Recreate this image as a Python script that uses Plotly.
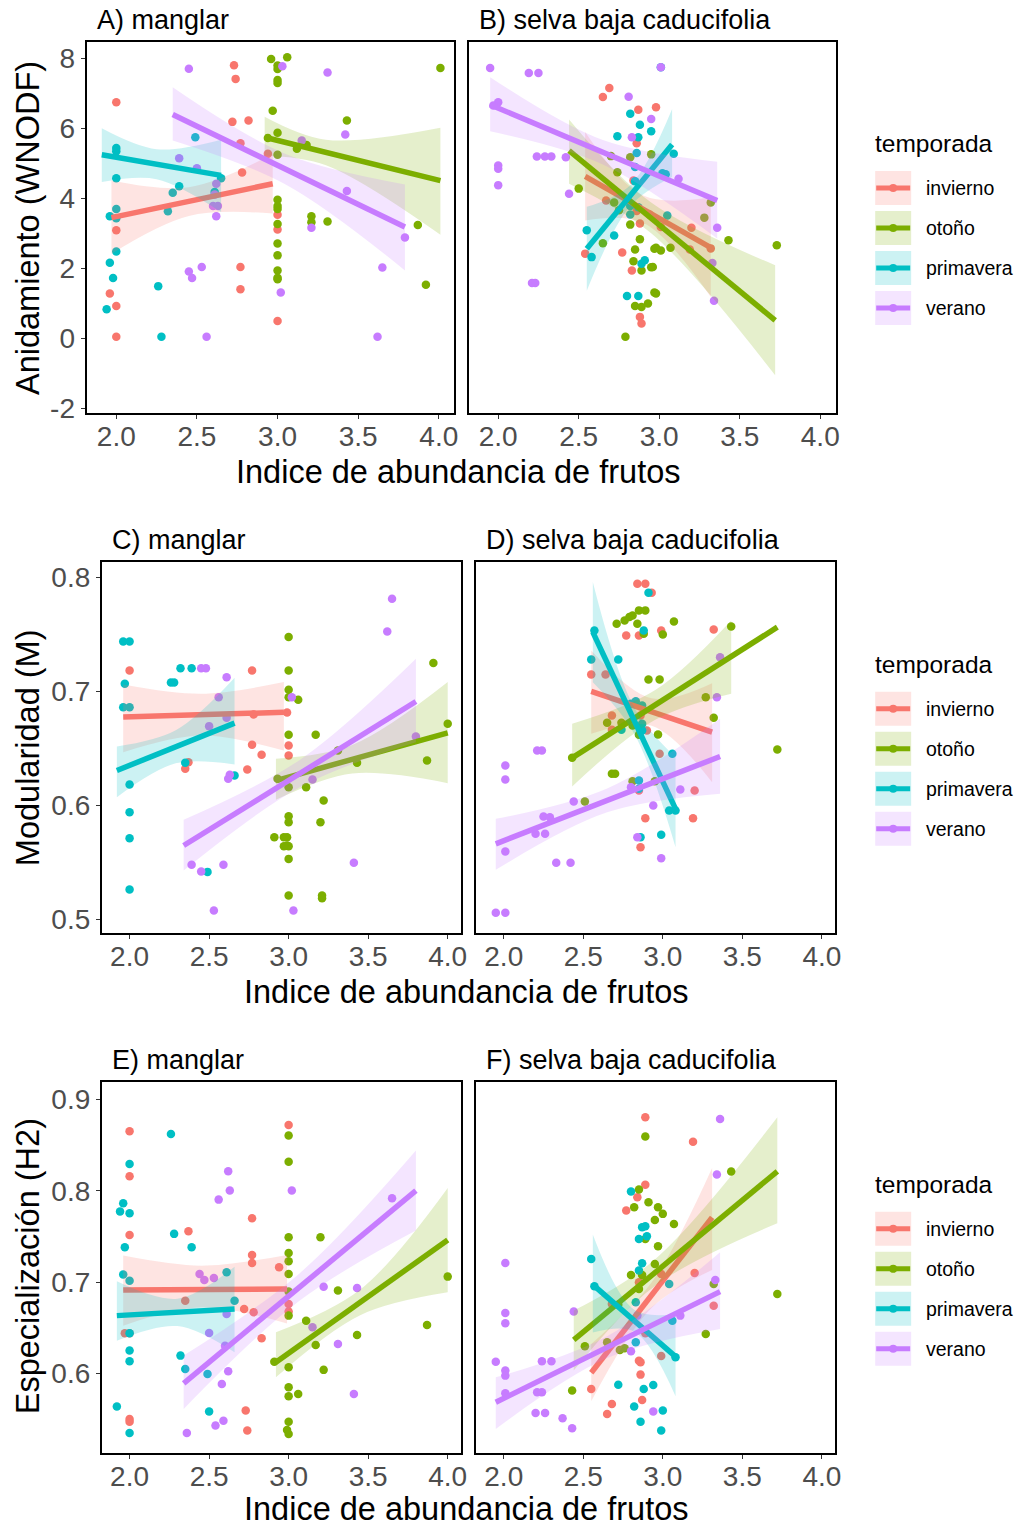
import plotly.graph_objects as go

W, H = 1019, 1527
# the rendered page comes out slightly smaller than the figure; positions below are
# given in target pixels and stretched by these factors
SX, SY = 1.005, 1.0075
FONT = "Liberation Sans, Arial, sans-serif"

SEASONS = ["invierno", "otoño", "primavera", "verano"]
SHORT = {"invierno": "inv", "otoño": "oto", "primavera": "pri", "verano": "ver"}
COLORS = {"invierno": "#F8766D", "otoño": "#7CAE00", "primavera": "#00BFC4", "verano": "#C77CFF"}

PANELS = ["A", "B", "C", "D", "E", "F"]
PANEL_TITLES = ["A) manglar", "B) selva baja caducifolia",
                "C) manglar", "D) selva baja caducifolia",
                "E) manglar", "F) selva baja caducifolia"]
Y_TITLES = ["Anidamiento (WNODF)", "Modularidad (M)", "Especialización (H2)"]
X_TITLE = "Indice de abundancia de frutos"
LEGEND_TITLE = "temporada"

X_TICKS = [2.0, 2.5, 3.0, 3.5, 4.0]
X_TICK_TEXT = ["2.0", "2.5", "3.0", "3.5", "4.0"]
Y_TICKS = [[-2, 0, 2, 4, 6, 8], [0.5, 0.6, 0.7, 0.8], [0.6, 0.7, 0.8, 0.9]]
Y_TICK_TEXT = [["-2", "0", "2", "4", "6", "8"], ["0.5", "0.6", "0.7", "0.8"], ["0.6", "0.7", "0.8", "0.9"]]

# ---------------- A) manglar : anidamiento ----------------
A_inv_x = [2.0, 2.73, 2.74, 2.72, 2.82, 2.77, 2.94, 2.78, 2.0, 1.96, 2.0, 2.0, 2.77, 2.77, 3.0, 3.0, 3.0]
A_inv_y = [6.75, 7.81, 7.42, 6.19, 6.23, 5.58, 5.28, 4.74, 3.09, 1.28, 0.92, 0.04, 2.04, 1.40, 0.49, 3.53, 3.11]
A_oto_x = [2.96, 2.97, 2.94, 3.06, 3.0, 3.0, 3.0, 3.0, 3.0, 3.0, 3.12, 3.18, 3.43, 4.01,
           3.0, 3.0, 3.0, 3.0, 3.0, 3.0, 3.0, 3.0, 3.0, 3.21, 3.21, 3.31, 3.87, 3.92]
A_oto_y = [7.99, 6.51, 5.73, 8.04, 7.80, 7.70, 7.39, 7.30, 5.88, 5.25, 5.42, 5.53, 6.23, 7.73,
           3.96, 3.78, 3.70, 3.27, 2.71, 2.37, 1.94, 1.73, 1.69, 3.49, 3.32, 3.34, 3.24, 1.53]
A_pri_x = [2.0, 2.0, 2.0, 2.49, 2.39, 2.35, 2.32, 2.65, 2.61, 2.0, 1.96, 2.0, 2.0, 1.96, 1.98, 1.94, 2.26, 2.28]
A_pri_y = [5.44, 5.35, 4.58, 5.75, 4.35, 4.16, 3.63, 4.58, 4.18, 3.70, 3.49, 3.43, 2.48, 2.16, 1.72, 0.83, 1.49, 0.04]
A_ver_x = [2.45, 2.39, 2.50, 2.62, 2.61, 2.60, 2.63, 2.62, 2.45, 2.47, 2.53, 2.56,
           3.03, 3.31, 3.15, 3.42, 3.43, 3.21, 3.79, 3.65, 3.02, 3.62]
A_ver_y = [7.71, 5.15, 4.86, 4.42, 4.11, 3.78, 3.78, 3.49, 1.91, 1.72, 2.04, 0.04,
           7.78, 7.60, 5.66, 5.83, 4.21, 3.16, 2.88, 2.02, 1.31, 0.04]

A_inv_fit_x, A_inv_fit_y = [1.97, 2.97], [3.45, 4.42]
A_inv_ci_x, A_inv_ci_lo, A_inv_ci_hi = [1.97, 2.45, 2.97], [2.42, 3.50, 3.57], [4.51, 4.32, 5.27]
A_oto_fit_x, A_oto_fit_y = [2.92, 4.01], [5.75, 4.51]
A_oto_ci_x, A_oto_ci_lo, A_oto_ci_hi = [2.92, 3.30, 4.01], [5.23, 4.95, 2.96], [6.34, 5.68, 6.02]
A_pri_fit_x, A_pri_fit_y = [1.91, 2.65], [5.25, 4.66]
A_pri_ci_x, A_pri_ci_lo, A_pri_ci_hi = [1.91, 2.25, 2.65], [4.47, 4.55, 3.61], [6.01, 5.41, 5.68]
A_ver_fit_x, A_ver_fit_y = [2.35, 3.79], [6.40, 3.18]
A_ver_ci_x, A_ver_ci_lo, A_ver_ci_hi = [2.35, 3.05, 3.79], [5.66, 4.40, 1.94], [7.18, 5.27, 4.40]

# ---------------- B) selva baja caducifolia : anidamiento ----------------
B_inv_x = [2.69, 2.65, 2.87, 2.98, 2.86, 2.84, 2.67, 2.86, 2.94, 2.88, 2.54, 2.77, 2.83, 2.88, 2.89, 3.01, 3.20, 3.19, 3.32]
B_inv_y = [7.16, 6.90, 6.54, 6.61, 5.58, 4.51, 3.94, 3.64, 3.54, 3.28, 2.42, 2.45, 1.94, 0.61, 0.42, 3.18, 3.16, 2.54, 2.57]
B_oto_x = [2.70, 2.82, 2.95, 2.50, 2.74, 2.72, 2.75, 2.82, 2.65, 2.88, 2.85, 2.84, 2.89, 2.95, 2.97,
           2.85, 2.89, 2.93, 2.97, 2.79, 3.32, 3.28, 3.43, 3.73, 2.98, 3.01, 3.07, 2.96, 2.98]
B_oto_y = [5.21, 5.18, 5.26, 4.28, 4.75, 3.88, 3.66, 3.25, 2.72, 2.83, 2.54, 2.20, 1.94, 2.03, 2.56,
           0.92, 0.89, 0.99, 1.31, 0.04, 3.88, 3.45, 2.80, 2.66, 2.59, 2.51, 2.59, 2.04, 1.28]
B_pri_x = [2.82, 2.88, 2.95, 2.74, 2.87, 2.86, 2.85, 2.85, 2.82, 2.87, 2.82, 2.55, 2.72, 2.58, 2.89, 2.91,
           2.80, 2.87, 3.02, 3.04, 3.09, 3.05, 3.01]
B_pri_y = [6.42, 6.11, 5.92, 5.78, 5.75, 5.30, 4.90, 4.49, 3.78, 3.75, 3.54, 3.09, 2.94, 2.32, 2.13, 2.23,
           1.21, 1.21, 4.72, 4.69, 5.28, 3.51, 7.75]
B_ver_x = [1.95, 2.19, 2.25, 2.0, 1.97, 2.24, 2.29, 2.33, 2.42, 2.0, 2.0, 2.0, 2.44, 2.21, 2.23,
           2.81, 2.95, 2.83, 3.01, 3.12, 3.36, 3.33, 3.34]
B_ver_y = [7.73, 7.59, 7.59, 6.75, 6.66, 5.20, 5.20, 5.20, 5.18, 4.94, 4.85, 4.38, 4.13, 1.58, 1.58,
           6.91, 6.27, 5.75, 7.75, 4.56, 3.16, 2.15, 1.07]

B_inv_fit_x, B_inv_fit_y = [2.54, 3.32], [4.63, 2.59]
B_inv_ci_x, B_inv_ci_lo, B_inv_ci_hi = [2.54, 2.90, 3.32], [3.37, 3.30, 1.18], [5.90, 4.08, 4.03]
B_oto_fit_x, B_oto_fit_y = [2.44, 3.72], [5.37, 0.51]
B_oto_ci_x, B_oto_ci_lo, B_oto_ci_hi = [2.44, 2.95, 3.72], [4.42, 3.00, -1.06], [6.26, 3.88, 2.09]
B_pri_fit_x, B_pri_fit_y = [2.55, 3.08], [2.56, 5.54]
B_pri_ci_x, B_pri_ci_lo, B_pri_ci_hi = [2.55, 2.82, 3.08], [1.36, 3.78, 4.61], [3.76, 4.38, 6.56]
B_ver_fit_x, B_ver_fit_y = [1.95, 3.36], [6.68, 3.94]
B_ver_ci_x, B_ver_ci_lo, B_ver_ci_hi = [1.95, 2.65, 3.36], [5.92, 4.97, 2.85], [7.47, 5.67, 5.05]

# ---------------- C) manglar : modularidad ----------------
C_inv_x = [2.0, 2.77, 2.78, 2.77, 2.83, 2.74, 2.35, 2.37, 3.0, 3.0, 2.99]
C_inv_y = [0.7184, 0.7184, 0.6798, 0.6532, 0.6445, 0.6316, 0.6322, 0.638, 0.6526, 0.6439, 0.6816]
C_oto_x = [3.0, 3.0, 3.0, 3.0, 3.06, 3.0, 3.17, 3.0, 3.11, 3.31, 3.43, 3.22, 3.20, 3.0, 3.0,
           2.99, 2.99, 3.0, 3.0, 3.0, 3.21, 3.21, 3.91, 4.0, 3.87, 2.91, 2.97, 2.97, 2.93]
C_oto_y = [0.7477, 0.7184, 0.7015, 0.695, 0.6927, 0.662, 0.662, 0.616, 0.616, 0.6482, 0.6374, 0.6044, 0.5854,
           0.5906, 0.5854, 0.5722, 0.5649, 0.5643, 0.5532, 0.521, 0.521, 0.5187, 0.7249, 0.6717, 0.6395,
           0.5722, 0.5722, 0.5643, 0.6234]
C_pri_x = [1.96, 2.0, 1.97, 1.96, 2.0, 2.0, 2.0, 2.0, 2.0, 2.32, 2.39, 2.26, 2.28, 2.35, 2.66, 2.49]
C_pri_y = [0.7439, 0.7439, 0.7068, 0.6862, 0.6862, 0.6184, 0.5941, 0.5713, 0.5263, 0.7204, 0.7204,
           0.7079, 0.7079, 0.6374, 0.6263, 0.5418]
C_ver_x = [2.45, 2.48, 2.61, 2.56, 2.61, 2.50, 2.63, 2.62, 2.39, 2.45, 2.59, 2.53,
           3.65, 3.62, 3.02, 3.80, 3.15, 3.41, 3.03]
C_ver_y = [0.7204, 0.7204, 0.7125, 0.695, 0.6769, 0.6696, 0.6269, 0.6234, 0.548, 0.5421, 0.548, 0.5079,
           0.7813, 0.7526, 0.695, 0.6605, 0.6228, 0.5497, 0.5079]

C_inv_fit_x, C_inv_fit_y = [1.96, 2.97], [0.6775, 0.6818]
C_inv_ci_x, C_inv_ci_lo, C_inv_ci_hi = [1.96, 2.45, 2.97], [0.6468, 0.6614, 0.6482], [0.7061, 0.698, 0.7082]
C_oto_fit_x, C_oto_fit_y = [2.92, 4.0], [0.6219, 0.6637]
C_oto_ci_x, C_oto_ci_lo, C_oto_ci_hi = [2.92, 3.40, 4.0], [0.605, 0.628, 0.6196], [0.641, 0.653, 0.7082]
C_pri_fit_x, C_pri_fit_y = [1.92, 2.66], [0.6307, 0.6722]
C_pri_ci_x, C_pri_ci_lo, C_pri_ci_hi = [1.92, 2.29, 2.66], [0.6073, 0.637, 0.636], [0.6518, 0.666, 0.712]
C_ver_fit_x, C_ver_fit_y = [2.34, 3.80], [0.5649, 0.6912]
C_ver_ci_x, C_ver_ci_lo, C_ver_ci_hi = [2.34, 3.07, 3.80], [0.543, 0.616, 0.6555], [0.5875, 0.640, 0.7287]

# ---------------- D) selva baja caducifolia : modularidad ----------------
D_inv_x = [2.84, 2.89, 2.93, 2.77, 2.85, 2.55, 2.64, 2.68, 2.68, 2.86, 2.90, 2.85, 2.89, 2.86,
           2.99, 2.98, 3.32, 3.20, 3.19]
D_inv_y = [0.7944, 0.7944, 0.7865, 0.7491, 0.7491, 0.7149, 0.7149, 0.6789, 0.6664, 0.6789, 0.6658,
           0.6132, 0.5889, 0.5634, 0.7535, 0.6453, 0.7544, 0.6132, 0.5889]
D_oto_x = [2.71, 2.76, 2.79, 2.81, 2.84, 2.85, 2.89, 2.88, 2.91, 2.98, 2.65, 2.74, 2.81, 2.85,
           2.97, 2.68, 2.70, 2.81, 2.95, 2.51, 2.43, 3.07, 3.0, 3.43, 3.27, 3.32, 3.72]
D_oto_y = [0.7594, 0.7623, 0.7652, 0.7667, 0.7594, 0.7711, 0.7711, 0.7506, 0.7105, 0.7105, 0.6725,
           0.6725, 0.6702, 0.662, 0.6623, 0.6278, 0.6278, 0.6213, 0.6213, 0.6035, 0.6418, 0.7614,
           0.75, 0.757, 0.695, 0.6769, 0.6491]
D_pri_x = [2.91, 2.57, 2.88, 2.55, 2.72, 2.80, 2.83, 2.87, 2.74, 2.87, 2.87, 2.85, 2.85, 2.86,
           2.99, 3.06, 3.04, 3.08]
D_pri_y = [0.7865, 0.7535, 0.7535, 0.7281, 0.7281, 0.6892, 0.6915, 0.6877, 0.6664, 0.6717, 0.6658,
           0.6219, 0.6146, 0.5722, 0.5743, 0.6453, 0.5956, 0.5956]
D_ver_x = [1.95, 2.01, 2.01, 2.01, 2.01, 2.21, 2.24, 2.33, 2.42, 2.44, 2.25, 2.29, 2.20, 2.26,
           2.80, 2.94, 2.84, 2.99, 3.36, 3.34, 3.11]
D_ver_y = [0.5059, 0.5059, 0.6351, 0.6228, 0.5596, 0.6482, 0.6482, 0.5497, 0.5497, 0.6035, 0.5904,
           0.5898, 0.5752, 0.5752, 0.616, 0.600, 0.5722, 0.5538, 0.7301, 0.695, 0.614]

D_inv_fit_x, D_inv_fit_y = [2.55, 3.31], [0.700, 0.6643]
D_inv_ci_x, D_inv_ci_lo, D_inv_ci_hi = [2.55, 2.93, 3.31], [0.6629, 0.670, 0.6204], [0.736, 0.694, 0.7073]
D_oto_fit_x, D_oto_fit_y = [2.43, 3.72], [0.6418, 0.7564]
D_oto_ci_x, D_oto_ci_lo, D_oto_ci_hi = [2.43, 2.95, 3.43], [0.6167, 0.675, 0.698], [0.6717, 0.701, 0.7623]
D_pri_fit_x, D_pri_fit_y = [2.56, 3.08], [0.752, 0.5971]
D_pri_ci_x, D_pri_ci_lo, D_pri_ci_hi = [2.56, 2.82, 3.08], [0.708, 0.663, 0.5634], [0.7959, 0.686, 0.6424]
D_ver_fit_x, D_ver_fit_y = [1.95, 3.36], [0.5664, 0.643]
D_ver_ci_x, D_ver_ci_lo, D_ver_ci_hi = [1.95, 2.65, 3.36], [0.5436, 0.594, 0.6103], [0.5883, 0.615, 0.676]

# ---------------- E) manglar : especializacion ----------------
E_inv_x = [2.0, 2.0, 2.0, 1.97, 2.0, 2.0, 2.0, 2.37, 2.35, 2.77, 2.77, 2.77, 2.72, 2.78, 2.83,
           2.73, 2.74, 2.94, 3.0, 3.0, 3.0]
E_inv_y = [0.8653, 0.816, 0.7519, 0.6441, 0.6441, 0.5504, 0.5474, 0.7558, 0.6799, 0.77, 0.73, 0.7212,
           0.6708, 0.6671, 0.6386, 0.5595, 0.5376, 0.7164, 0.8723, 0.6763, 0.6679]
E_oto_x = [3.0, 3.0, 3.0, 3.20, 3.0, 3.0, 3.0, 3.0, 3.0, 3.31, 3.11, 3.17, 3.43, 3.22, 3.0, 3.0,
           3.0, 3.06, 3.0, 2.99, 3.0, 4.0, 3.87, 2.91]
E_oto_y = [0.8606, 0.8321, 0.7492, 0.7492, 0.7321, 0.723, 0.7091, 0.6898, 0.6635, 0.6909, 0.658,
           0.6314, 0.6424, 0.6041, 0.6069, 0.585, 0.5751, 0.5778, 0.5474, 0.5383, 0.534, 0.7062,
           0.6533, 0.6131]
E_pri_x = [2.26, 2.0, 1.96, 1.94, 2.0, 2.28, 1.97, 2.39, 1.96, 2.0, 2.61, 2.66, 2.0, 2.0, 2.0,
           2.32, 2.35, 2.49, 1.92, 2.50, 2.0]
E_pri_y = [0.8624, 0.8296, 0.7865, 0.7774, 0.7755, 0.753, 0.7383, 0.7383, 0.7084, 0.7018, 0.7109,
           0.6799, 0.6441, 0.6252, 0.6135, 0.6197, 0.6051, 0.5997, 0.5639, 0.5584, 0.535]
E_ver_x = [2.62, 2.63, 2.56, 2.44, 2.47, 2.53, 2.61, 2.50, 2.60, 2.62, 2.58, 2.54, 2.59, 2.36,
           3.02, 3.65, 3.22, 3.43, 3.15, 3.31, 3.41]
E_ver_y = [0.8215, 0.8004, 0.7905, 0.7092, 0.7026, 0.7048, 0.6653, 0.6445, 0.6306, 0.6025, 0.5887,
           0.5431, 0.5485, 0.535, 0.8004, 0.7919, 0.6952, 0.6938, 0.6507, 0.6325, 0.5778]

E_inv_fit_x, E_inv_fit_y = [1.96, 2.99], [0.6916, 0.6927]
E_inv_ci_x, E_inv_ci_lo, E_inv_ci_hi = [1.96, 2.45, 2.99], [0.6525, 0.6726, 0.655], [0.7292, 0.7182, 0.730]
E_oto_fit_x, E_oto_fit_y = [2.92, 4.0], [0.6124, 0.7463]
E_oto_ci_x, E_oto_ci_lo, E_oto_ci_hi = [2.92, 3.45, 4.0], [0.5959, 0.664, 0.689], [0.6452, 0.692, 0.8033]
E_pri_fit_x, E_pri_fit_y = [1.92, 2.66], [0.6635, 0.6708]
E_pri_ci_x, E_pri_ci_lo, E_pri_ci_hi = [1.92, 2.30, 2.66], [0.6361, 0.652, 0.6233], [0.701, 0.682, 0.7171]
E_ver_fit_x, E_ver_fit_y = [2.34, 3.80], [0.5894, 0.8004]
E_ver_ci_x, E_ver_ci_lo, E_ver_ci_hi = [2.34, 3.07, 3.80], [0.5613, 0.680, 0.7566], [0.6197, 0.710, 0.8442]

# ---------------- F) selva baja caducifolia : especializacion ----------------
F_inv_x = [2.89, 2.89, 2.84, 2.77, 2.85, 2.68, 2.89, 2.85, 2.86, 2.86, 2.55, 2.68, 2.65, 2.87,
           2.99, 3.19, 3.20, 3.32, 2.99]
F_inv_y = [0.8806, 0.8069, 0.793, 0.7785, 0.6999, 0.6763, 0.6441, 0.6142, 0.6124, 0.5989, 0.5832,
           0.5668, 0.5559, 0.5712, 0.6193, 0.854, 0.7102, 0.6744, 0.7092]
F_oto_x = [2.89, 2.85, 2.82, 2.91, 2.97, 2.95, 2.89, 2.97, 2.95, 2.80, 2.87, 2.85, 2.72, 2.51,
           2.65, 2.73, 2.76, 2.43, 3.0, 3.07, 3.43, 3.32, 3.27, 3.72]
F_oto_y = [0.8595, 0.8015, 0.7821, 0.7876, 0.7821, 0.7683, 0.7475, 0.7394, 0.7201, 0.7081, 0.7081,
           0.6927, 0.6755, 0.6299, 0.6343, 0.6259, 0.6277, 0.5814, 0.7749, 0.7639, 0.8212, 0.6981,
           0.6435, 0.6873]
F_pri_x = [2.80, 2.87, 2.89, 2.85, 2.90, 2.55, 2.87, 2.85, 2.83, 2.57, 2.83, 2.72, 2.94, 2.88,
           2.82, 2.86, 2.99, 3.04, 3.06, 3.08, 3.0]
F_pri_y = [0.7993, 0.7602, 0.7613, 0.7475, 0.7503, 0.7256, 0.7208, 0.7128, 0.6781, 0.6956, 0.6343,
           0.5879, 0.5876, 0.5832, 0.5639, 0.5474, 0.5376, 0.6982, 0.658, 0.6178, 0.5595]
F_ver_x = [2.01, 2.01, 2.01, 1.95, 2.01, 2.01, 2.01, 2.24, 2.30, 2.21, 2.24, 2.20, 2.26, 2.37,
           2.43, 2.44, 2.84, 2.80, 2.94, 3.36, 3.34, 3.33, 3.11]
F_ver_y = [0.7212, 0.6664, 0.6551, 0.6131, 0.6033, 0.5978, 0.5784, 0.6135, 0.6135, 0.5795, 0.5795,
           0.557, 0.557, 0.5511, 0.5401, 0.6679, 0.6635, 0.6244, 0.5584, 0.8789, 0.8179, 0.7026, 0.6635]

F_inv_fit_x, F_inv_fit_y = [2.55, 3.31], [0.601, 0.7711]
F_inv_ci_x, F_inv_ci_lo, F_inv_ci_hi = [2.55, 2.93, 3.31], [0.5697, 0.672, 0.7135], [0.6325, 0.700, 0.8252]
F_oto_fit_x, F_oto_fit_y = [2.44, 3.72], [0.6369, 0.8215]
F_oto_ci_x, F_oto_ci_lo, F_oto_ci_hi = [2.44, 2.95, 3.72], [0.6033, 0.696, 0.7646], [0.669, 0.725, 0.8806]
F_pri_fit_x, F_pri_fit_y = [2.56, 3.08], [0.6974, 0.6186]
F_pri_ci_x, F_pri_ci_lo, F_pri_ci_hi = [2.56, 2.82, 3.08], [0.645, 0.646, 0.5752], [0.7522, 0.670, 0.6653]
F_ver_fit_x, F_ver_fit_y = [1.95, 3.36], [0.5686, 0.6898]
F_ver_ci_x, F_ver_ci_lo, F_ver_ci_hi = [1.95, 2.65, 3.36], [0.5394, 0.617, 0.6489], [0.5959, 0.641, 0.7328]

# ---------------- layout geometry (pixels) ----------------
# panel boxes: (left, right, top, bottom)
BOXES = [(86.7, 454.7, 42.0, 413.0), (469.0, 836.5, 42.0, 413.0),
         (102.0, 461.5, 562.0, 933.0), (476.5, 836.0, 562.0, 933.0),
         (102.0, 461.5, 1082.0, 1453.0), (476.5, 836.0, 1082.0, 1453.0)]
X_RANGES = [[1.816, 4.096], [1.826, 4.084], [1.826, 4.084]]
Y_RANGES = [[-2.143, 8.475], [0.488, 0.8134], [0.5127, 0.919]]
X_TITLE_POS = [(459, 472), (467, 992), (467, 1509)]
Y_TITLE_POS = [(28, 228), (28, 747), (28, 1266)]
LEGEND_TOP = [143.5, 664, 1184]


def fx(px):
    return min(1.0, px * SX / W)


def fy(py):
    return max(0.0, 1 - py * SY / H)


def rgba(hex_color, a):
    h = hex_color.lstrip("#")
    r, g, b = int(h[0:2], 16), int(h[2:4], 16), int(h[4:6], 16)
    return f"rgba({r},{g},{b},{a})"


def series(panel, season, kind):
    return globals()[f"{panel}_{SHORT[season]}_{kind}"]


fig = go.Figure()
layout = dict(width=W, height=H, autosize=False, margin=dict(l=0, r=0, t=0, b=0),
              paper_bgcolor="white", plot_bgcolor="white", showlegend=False,
              font=dict(family=FONT, color="black"))

annotations = []
shapes = []

for i, p in enumerate(PANELS):
    row, col = divmod(i, 2)
    n = "" if i == 0 else str(i + 1)
    xa, ya = f"x{n}", f"y{n}"
    left, right, top, bottom = BOXES[i]

    layout[f"xaxis{n}"] = dict(
        domain=[fx(left), fx(right)], range=X_RANGES[row], anchor=ya,
        tickvals=X_TICKS, ticktext=X_TICK_TEXT, ticks="outside", ticklen=4, tickwidth=1.2,
        tickcolor="#333333", showline=True, linecolor="black", linewidth=2, mirror=True,
        showgrid=False, zeroline=False, ticklabelstandoff=-7,
        tickfont=dict(family=FONT, size=28, color="#4d4d4d"))
    layout[f"yaxis{n}"] = dict(
        domain=[fy(bottom), fy(top)], range=Y_RANGES[row], anchor=xa,
        tickvals=Y_TICKS[row], ticktext=Y_TICK_TEXT[row],
        ticks="outside" if col == 0 else "", ticklen=4, tickwidth=1.2, tickcolor="#333333",
        showticklabels=(col == 0), showline=True, linecolor="black", linewidth=2, mirror=True,
        showgrid=False, zeroline=False,
        tickfont=dict(family=FONT, size=28, color="#4d4d4d"))

    # points
    for s in SEASONS:
        fig.add_trace(go.Scatter(
            x=series(p, s, "x"), y=series(p, s, "y"), mode="markers",
            marker=dict(size=8.5, color=COLORS[s], line=dict(width=0)),
            xaxis=xa, yaxis=ya, hoverinfo="skip", cliponaxis=True))

    # regression fits with confidence bands
    for s in SEASONS:
        bx = series(p, s, "ci_x")
        fig.add_trace(go.Scatter(
            x=bx, y=series(p, s, "ci_lo"), mode="lines",
            line=dict(width=0, shape="spline", color=COLORS[s]),
            xaxis=xa, yaxis=ya, hoverinfo="skip"))
        fig.add_trace(go.Scatter(
            x=bx, y=series(p, s, "ci_hi"), mode="lines", fill="tonexty",
            fillcolor=rgba(COLORS[s], 0.2),
            line=dict(width=0, shape="spline", color=COLORS[s]),
            xaxis=xa, yaxis=ya, hoverinfo="skip"))
        fig.add_trace(go.Scatter(
            x=series(p, s, "fit_x"), y=series(p, s, "fit_y"), mode="lines",
            line=dict(width=5.5, color=COLORS[s]),
            xaxis=xa, yaxis=ya, hoverinfo="skip"))

    annotations.append(dict(
        text=PANEL_TITLES[i], xref="paper", yref="paper",
        x=fx(left + 8), y=fy(top - 22), xanchor="left", yanchor="middle",
        showarrow=False, font=dict(family=FONT, size=27, color="black")))

for r in range(3):
    tx, ty = X_TITLE_POS[r]
    annotations.append(dict(
        text=X_TITLE, xref="paper", yref="paper", x=fx(tx), y=fy(ty),
        xanchor="center", yanchor="middle", showarrow=False,
        font=dict(family=FONT, size=32.5, color="black")))
    ux, uy = Y_TITLE_POS[r]
    annotations.append(dict(
        text=Y_TITLES[r], xref="paper", yref="paper", x=fx(ux), y=fy(uy),
        xanchor="center", yanchor="middle", textangle=-90, showarrow=False,
        font=dict(family=FONT, size=32.5, color="black")))

    # legend for this row
    top_y = LEGEND_TOP[r]
    annotations.append(dict(
        text=LEGEND_TITLE, xref="paper", yref="paper", x=fx(874), y=fy(top_y),
        xanchor="left", yanchor="middle", showarrow=False,
        font=dict(family=FONT, size=24.5, color="black")))
    for k, s in enumerate(SEASONS):
        cy = top_y + 44.5 + 40 * k
        shapes.append(dict(type="rect", xref="paper", yref="paper",
                           x0=fx(876), x1=fx(912), y0=fy(cy + 17), y1=fy(cy - 17),
                           fillcolor=rgba(COLORS[s], 0.2), line=dict(width=0), layer="above"))
        shapes.append(dict(type="line", xref="paper", yref="paper",
                           x0=fx(877), x1=fx(911), y0=fy(cy), y1=fy(cy),
                           line=dict(color=COLORS[s], width=5), layer="above"))
        shapes.append(dict(type="circle", xref="paper", yref="paper",
                           x0=fx(890), x1=fx(898), y0=fy(cy + 4), y1=fy(cy - 4),
                           fillcolor=COLORS[s], line=dict(width=0), layer="above"))
        annotations.append(dict(
            text=s, xref="paper", yref="paper", x=fx(924.5), y=fy(cy),
            xanchor="left", yanchor="middle", showarrow=False,
            font=dict(family=FONT, size=19.5, color="black")))

layout["annotations"] = annotations
layout["shapes"] = shapes
fig.update_layout(**layout)
fig.write_html("out.html", include_plotlyjs=True)
